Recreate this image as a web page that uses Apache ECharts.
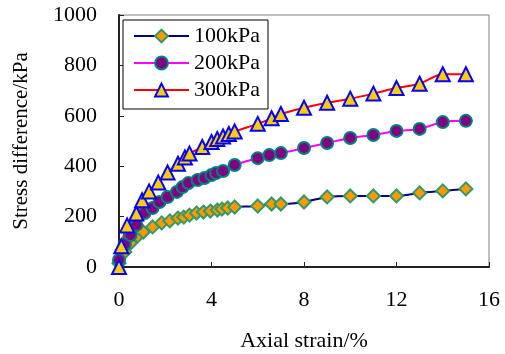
<!DOCTYPE html>
<html>
<head>
<meta charset="utf-8">
<script src="https://cdn.jsdelivr.net/npm/echarts@6/dist/echarts.min.js"></script>
<style>
  html, body { margin: 0; padding: 0; background: #fff; }
  #chart { width: 505px; height: 354px; }
</style>
</head>
<body>
<div id="chart"></div>
<script>
// axial strain (%) and stress difference (kPa)
const strain100 = [0, 0.25, 0.5, 0.8, 1.05, 1.45, 1.85, 2.2, 2.55, 2.8, 3.05, 3.35, 3.65, 3.95, 4.25, 4.45, 4.7, 5.0, 6.0, 6.6, 7.0, 8.0, 9.0, 10.0, 11.0, 12.0, 13.0, 14.0, 15.0];
const stress100 = [15, 60, 95, 123, 139, 159, 175, 183, 194, 198, 206, 214, 218, 222, 226, 230, 234, 238, 242, 250, 250, 258, 278, 282, 282, 282, 294, 302, 310];

const strain200 = [0, 0.25, 0.5, 0.75, 1.1, 1.45, 1.75, 2.1, 2.5, 2.75, 3.0, 3.4, 3.7, 4.0, 4.2, 4.5, 5.0, 6.0, 6.5, 7.0, 8.0, 9.0, 10.0, 11.0, 12.0, 13.0, 14.0, 15.0];
const stress200 = [28, 90, 127, 167, 214, 234, 258, 278, 298, 317, 333, 345, 353, 365, 373, 381, 405, 432, 444, 452, 472, 492, 512, 524, 540, 548, 575, 580];

const strain300 = [0, 0.1, 0.35, 0.75, 1.0, 1.3, 1.7, 2.1, 2.55, 2.85, 3.05, 3.6, 4.0, 4.25, 4.5, 4.75, 5.0, 6.0, 6.6, 7.0, 8.0, 9.0, 10.0, 11.0, 12.0, 13.0, 14.0, 15.0];
const stress300 = [0, 82, 165, 212, 265, 300, 335, 375, 410, 435, 450, 476, 496, 508, 518, 528, 538, 568, 590, 607, 632, 652, 668, 688, 710, 727, 765, 765];

const xTicks = [0, 4, 8, 12, 16];
const yTicks = [0, 200, 400, 600, 800, 1000];

const pairs = (xs, ys) => xs.map((x, i) => [x, ys[i]]);

const font = 'Liberation Serif';
const chart = echarts.init(document.getElementById('chart'));

const makeSeries = (name, data, lineColor, symbol, size, fill, border) => ({
    name: name,
    type: 'line',
    data: data,
    smooth: 0.3,
    symbol: symbol,
    symbolSize: size,
    showAllSymbol: true,
    lineStyle: {color: lineColor, width: 2},
    itemStyle: {color: fill, borderColor: border, borderWidth: 2},
    emphasis: {disabled: true},
    animation: false
});

chart.setOption({
    animation: false,
    grid: {
        left: 119, right: 16, top: 15, bottom: 87,
        outerBoundsMode: 'none',
        show: true, borderColor: '#808080', borderWidth: 1
    },
    legend: {
        left: 123, top: 20,
        orient: 'vertical',
        backgroundColor: '#fff',
        borderColor: '#000',
        borderWidth: 1,
        padding: [5, 8, 8, 10],
        itemWidth: 55, itemHeight: 16, itemGap: 5,
        textStyle: {fontFamily: font, fontSize: 22, color: '#000'},
        data: ['100kPa', '200kPa', '300kPa']
    },
    xAxis: {
        type: 'value',
        min: 0, max: 16, interval: 4,
        name: 'Axial strain/%',
        nameLocation: 'middle',
        nameGap: 63,
        nameTextStyle: {fontFamily: font, fontSize: 22, color: '#000'},
        axisLine: {lineStyle: {color: '#222', width: 2}},
        axisTick: {inside: true, length: 5, lineStyle: {color: '#222'}},
        axisLabel: {
            fontFamily: font, fontSize: 22, color: '#000', margin: 22,
            formatter: v => xTicks.includes(v) ? String(v) : ''
        },
        splitLine: {show: false}
    },
    yAxis: {
        type: 'value',
        min: 0, max: 1000, interval: 200,
        name: 'Stress difference/kPa',
        nameLocation: 'middle',
        nameGap: 87,
        nameTextStyle: {fontFamily: font, fontSize: 21, color: '#000'},
        axisLine: {show: true, lineStyle: {color: '#222', width: 2}},
        axisTick: {show: true, inside: true, length: 5, lineStyle: {color: '#222'}},
        axisLabel: {
            fontFamily: font, fontSize: 22, color: '#000', margin: 22,
            formatter: v => yTicks.includes(v) ? String(v) : ''
        },
        splitLine: {show: false}
    },
    series: [
        makeSeries('100kPa', pairs(strain100, stress100), '#000080', 'diamond', 13, '#FF9900', '#339966'),
        makeSeries('200kPa', pairs(strain200, stress200), '#FF00FF', 'circle', 12, '#800080', '#008080'),
        makeSeries('300kPa', pairs(strain300, stress300), '#FF0000', 'triangle', 14, '#FFCC00', '#0000FF')
    ]
});
</script>
</body>
</html>
